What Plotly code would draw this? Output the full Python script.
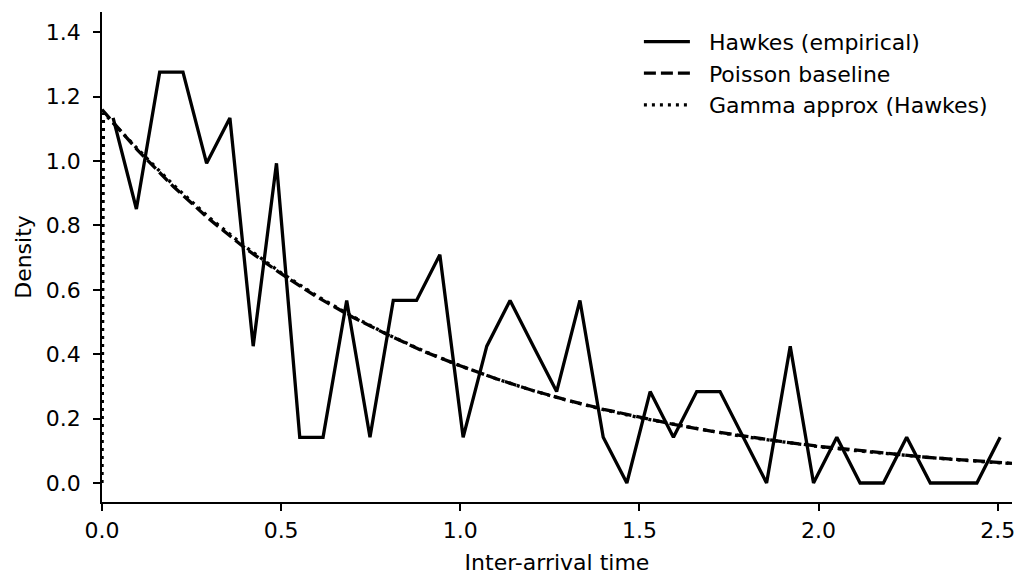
import plotly.graph_objects as go

# Hawkes empirical histogram density (bin centres and densities)
hawkes_x = [0.031, 0.096, 0.161, 0.226, 0.292, 0.357, 0.422, 0.487, 0.552, 0.617,
            0.683, 0.748, 0.813, 0.878, 0.943, 1.008, 1.074, 1.139, 1.204, 1.269,
            1.334, 1.399, 1.465, 1.530, 1.595, 1.660, 1.725, 1.790, 1.855, 1.921,
            1.986, 2.051, 2.116, 2.181, 2.246, 2.312, 2.377, 2.442, 2.507]
hawkes_y = [1.134, 0.851, 1.276, 1.276, 0.993, 1.134, 0.425, 0.993, 0.142, 0.142,
            0.567, 0.142, 0.567, 0.567, 0.709, 0.142, 0.425, 0.567, 0.425, 0.284,
            0.567, 0.142, 0.0, 0.284, 0.142, 0.284, 0.284, 0.142, 0.0, 0.425,
            0.0, 0.142, 0.0, 0.0, 0.142, 0.0, 0.0, 0.0, 0.142]

# Poisson baseline
poisson_x = [0.0, 0.1, 0.2, 0.3, 0.4, 0.5, 0.6, 0.7, 0.8, 0.9, 1.0, 1.1, 1.2, 1.3,
             1.4, 1.5, 1.6, 1.7, 1.8, 1.9, 2.0, 2.1, 2.2, 2.3, 2.4, 2.5, 2.54]
poisson_y = [1.160, 1.033, 0.920, 0.819, 0.729, 0.650, 0.578, 0.515, 0.459, 0.408,
             0.364, 0.324, 0.288, 0.257, 0.229, 0.204, 0.181, 0.161, 0.144, 0.128,
             0.114, 0.102, 0.090, 0.080, 0.072, 0.064, 0.061]

# Gamma approximation
gamma_x = [0.0, 0.004, 0.1, 0.2, 0.3, 0.4, 0.5, 0.6, 0.7, 0.8, 0.9, 1.0, 1.1, 1.2,
           1.3, 1.4, 1.5, 1.6, 1.7, 1.8, 1.9, 2.0, 2.1, 2.2, 2.3, 2.4, 2.5, 2.54]
gamma_y = [0.0, 1.150, 1.037, 0.925, 0.824, 0.734, 0.653, 0.581, 0.517, 0.460,
           0.409, 0.364, 0.324, 0.288, 0.256, 0.228, 0.203, 0.181, 0.161, 0.143,
           0.127, 0.113, 0.101, 0.090, 0.080, 0.071, 0.063, 0.060]

x_ticks = [0.0, 0.5, 1.0, 1.5, 2.0, 2.5]
y_ticks = [0.0, 0.2, 0.4, 0.6, 0.8, 1.0, 1.2, 1.4]

FONT = "DejaVu Sans"
LW = 3.3
PAD = "\u00a0\u00a0"

fig = go.Figure()
fig.add_trace(go.Scatter(x=hawkes_x, y=hawkes_y, mode="lines", name=PAD + "Hawkes (empirical)",
                         line=dict(color="black", width=LW)))
fig.add_trace(go.Scatter(x=poisson_x, y=poisson_y, mode="lines", name=PAD + "Poisson baseline",
                         line=dict(color="black", width=LW, dash="12px,5px")))
fig.add_trace(go.Scatter(x=gamma_x, y=gamma_y, mode="lines", name=PAD + "Gamma approx (Hawkes)",
                         line=dict(color="black", width=LW, dash="3px,5px")))

fig.update_layout(
    width=1023, height=578,
    margin=dict(l=102, r=11, t=12, b=76),
    paper_bgcolor="white", plot_bgcolor="white",
    font=dict(family=FONT, size=22, color="black"),
    showlegend=True,
    legend=dict(x=0.590, y=0.982, xanchor="left", yanchor="top",
                bgcolor="rgba(0,0,0,0)", borderwidth=0, itemwidth=46,
                font=dict(family=FONT, size=22, color="black")),
    xaxis=dict(range=[0, 2.54], tickvals=x_ticks, ticktext=[f"{v:.1f}" for v in x_ticks],
               automargin=False,
               showgrid=False, zeroline=False, showline=True, linecolor="black", linewidth=1.8,
               ticks="outside", ticklen=7, tickwidth=1.8, tickcolor="black",
               ticklabelstandoff=1,
               title=dict(text="Inter-arrival time", standoff=12,
                          font=dict(family=FONT, size=22))),
    yaxis=dict(range=[-0.059, 1.463], tickvals=y_ticks, ticktext=[f"{v:.1f}" for v in y_ticks],
               automargin=False,
               showgrid=False, zeroline=False, showline=True, linecolor="black", linewidth=1.8,
               ticks="outside", ticklen=7, tickwidth=1.8, tickcolor="black",
               ticklabelstandoff=8,
               title=dict(text="Density", standoff=8,
                          font=dict(family=FONT, size=22))),
)

fig.write_html("out.html", config={"displayModeBar": False},
               post_script="document.body.style.margin='0';document.body.style.padding='0';")
